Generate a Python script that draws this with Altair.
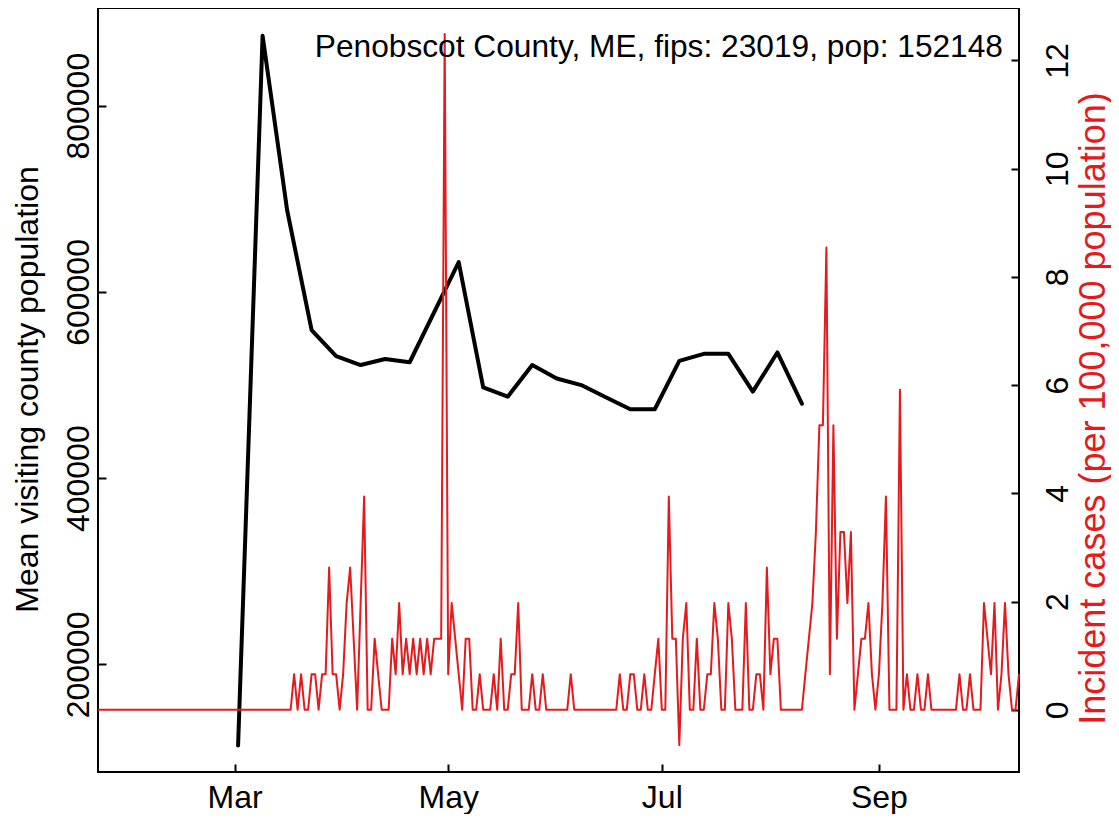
import altair as alt
import pandas as pd

TITLE = "Penobscot County, ME, fips: 23019, pop: 152148"
POPULATION = 152148
RED = "#e41a1c"
FONT = "Liberation Sans"

# weekly mean visiting county population (black line, left axis)
week_dates = [
    "2020-03-02", "2020-03-09", "2020-03-16", "2020-03-23", "2020-03-30",
    "2020-04-06", "2020-04-13", "2020-04-20", "2020-05-04", "2020-05-11",
    "2020-05-18", "2020-05-25", "2020-06-01", "2020-06-08", "2020-06-15",
    "2020-06-22", "2020-06-29", "2020-07-06", "2020-07-13", "2020-07-20",
    "2020-07-27", "2020-08-03", "2020-08-10",
]
visitors = [
    113000, 875000, 688000, 559000, 531000,
    521500, 528000, 524500, 632000, 497500,
    487500, 521500, 507000, 500000, 487000,
    474000, 474000, 526000, 533500, 533500,
    493000, 535000, 480000,
]

# daily incident case counts starting 2020-01-22 (red line, right axis)
case_start = "2020-01-22"
case_counts = [
    0, 0, 0, 0, 0, 0, 0, 0, 0, 0,
    0, 0, 0, 0, 0, 0, 0, 0, 0, 0,
    0, 0, 0, 0, 0, 0, 0, 0, 0, 0,
    0, 0, 0, 0, 0, 0, 0, 0, 0, 0,
    0, 0, 0, 0, 0, 0, 0, 0, 0, 0,
    0, 0, 0, 0, 0,
    0, 1, 0, 1, 0, 0, 1, 1, 0, 1,
    1, 4, 1, 1, 0, 1, 3, 4, 2, 0,
    3, 6, 0, 0, 2, 1, 0, 0, 0, 2,
    1, 3, 1, 2, 1, 2, 1, 2, 1, 2,
    1, 2, 2, 2, 19, 1, 3, 2, 1, 0,
    2, 2, 0, 0, 1, 0, 0, 0, 1, 0,
    2, 0, 0, 1, 1, 3, 0, 0, 0, 1,
    0, 0, 1, 0, 0, 0, 0, 0, 0, 0,
    1, 0, 0, 0, 0, 0, 0, 0, 0, 0,
    0, 0, 0, 0, 1, 0, 0, 1, 1, 0,
    0, 1, 0, 0, 1, 2, 0, 0, 6, 2,
    2, -1, 2, 3, 0, 0, 2, 0, 0, 1,
    1, 3, 2, 0, 0, 3, 2, 0, 0, 0,
    3, 0, 0, 1, 1, 0, 4, 1, 2, 2,
    0, 0, 0, 0, 0, 0, 0, 1, 2, 3,
    5, 8, 8, 13, 1, 8, 2, 5, 5, 3,
    5, 0, 1, 2, 2, 3, 1, 0, 1, 3,
    6, 0, 0, 0, 9, 0, 1, 0, 0, 1,
    0, 0, 1, 0, 0, 0, 0, 0, 0, 0,
    0, 1, 0, 0, 1, 0, 0, 0, 3, 2,
    1, 3, 0, 1, 3, 1, 0, 0, 1,
]

x_ticks = ["Mar", "May", "Jul", "Sep"]
x_tick_months = [3, 5, 7, 9]
left_ticks = [200000, 400000, 600000, 800000]
right_ticks = [0, 2, 4, 6, 8, 10, 12]

df_vis = pd.DataFrame({"date": week_dates, "visitors": visitors})
case_dates = pd.date_range(case_start, periods=len(case_counts), freq="D").strftime("%Y-%m-%d")
df_cases = pd.DataFrame({
    "date": list(case_dates),
    "rate": [c * 100000.0 / POPULATION for c in case_counts],
})

x_scale = alt.Scale(
    type="utc",
    domain=[alt.DateTime(year=2020, month=1, date=22, utc=True),
            alt.DateTime(year=2020, month=10, date=11, utc=True)],
)
x_axis = alt.Axis(
    values=[alt.DateTime(year=2020, month=m, date=1, utc=True) for m in x_tick_months],
    format="%b", title=None, offset=-8, tickSize=8, labelPadding=35,
    labelBaseline="alphabetic", labelAlign="center", labelOverlap=False,
)
x_enc = alt.X("date:T", scale=x_scale, axis=x_axis)

black = alt.Chart(df_vis).mark_line(
    color="black", strokeWidth=4, strokeJoin="round", strokeCap="round"
).encode(
    x=x_enc,
    y=alt.Y("visitors:Q",
            scale=alt.Scale(domain=[84500, 904900], nice=False, zero=False),
            axis=alt.Axis(orient="left", values=left_ticks, format="d",
                          title="Mean visiting county population",
                          offset=-8, tickSize=8, labelPadding=10,
                          labelAngle=270, labelAlign="center",
                          labelBaseline="alphabetic", labelOverlap=False,
                          titleAngle=270, titleX=-69, titleY=381,
                          titleAlign="center", titleBaseline="alphabetic")),
)

red = alt.Chart(df_cases).mark_line(
    color=RED, strokeWidth=2, strokeJoin="round"
).encode(
    x=x_enc,
    y=alt.Y("rate:Q",
            scale=alt.Scale(domain=[-1.15, 12.97], nice=False, zero=False),
            axis=alt.Axis(orient="right", values=right_ticks, format="d",
                          title="Incident cases (per 100,000 population)",
                          titleColor=RED, titleFontSize=36,
                          offset=-8, tickSize=8, labelPadding=48,
                          labelAngle=270, labelAlign="center",
                          labelBaseline="alphabetic", labelOverlap=False,
                          titleAngle=270, titleX=93, titleY=400,
                          titleAlign="center", titleBaseline="alphabetic")),
)

chart = alt.layer(black, red).resolve_scale(y="independent").properties(
    width=921,
    height=764,
    autosize=alt.AutoSizeParams(type="none"),
    padding={"left": 90, "top": 0, "right": 92, "bottom": 42},
    title=alt.TitleParams(
        text=TITLE, anchor="end", frame="group", orient="top",
        offset=-81, baseline="alphabetic", dx=-16,
        fontSize=31.7, font=FONT, fontWeight="normal", color="black",
    ),
).configure_view(
    stroke="black", strokeWidth=2
).configure_axis(
    labelFont=FONT, titleFont=FONT, labelFontSize=32, titleFontSize=32,
    labelColor="black", titleColor="black", titleFontWeight="normal",
    tickColor="black", tickWidth=2, domain=False, grid=False,
)

chart.save("out.html", embed_options={"renderer": "svg", "actions": False})
